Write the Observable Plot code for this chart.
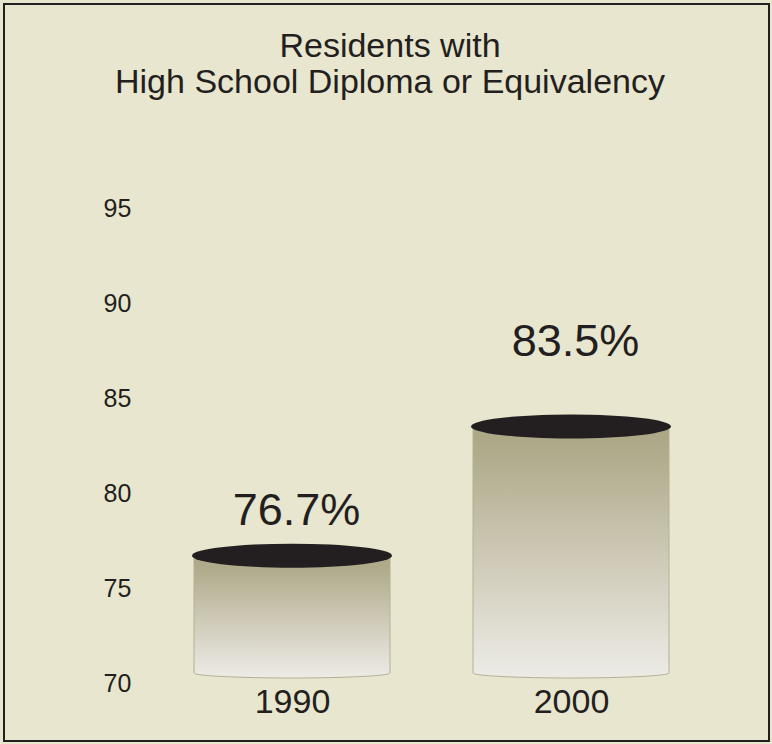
<!DOCTYPE html>
<html>
<head>
<meta charset="utf-8">
<script src="https://cdn.jsdelivr.net/npm/d3@7"></script>
<script src="https://cdn.jsdelivr.net/npm/@observablehq/plot@0.6"></script>
<style>
  body { margin: 0; background: #e8e6ce; }
  #wrap { position: relative; width: 772px; height: 744px; background: #e8e6ce; overflow: hidden;
          font-family: "Liberation Sans", Arial, sans-serif; color: #231f20; }
  #title { position: absolute; left: 0; top: 0; width: 772px; height: 120px; box-sizing: border-box;
           padding-top: 27px; padding-left: 8px; text-align: center; font-size: 34px; line-height: 36px; }
  #chart { position: absolute; left: 0; top: 120px; }
  #frame { position: absolute; left: 3px; top: 3px; width: 767px; height: 739px; box-sizing: border-box;
           border: 2px solid #231f20; pointer-events: none; }
</style>
</head>
<body>
<div id="wrap">
  <div id="title">Residents with<br>High School Diploma or Equivalency</div>
  <div id="chart"></div>
  <div id="frame"></div>
</div>
<script>
const years = ["1990", "2000"];
const values = [76.7, 83.5];
const yTicks = [70, 75, 80, 85, 90, 95];
const baseline = 70;

const data = years.map((year, i) => ({year, value: values[i]}));

const cylinders = (index, scales) => {
  const {x, y} = scales;
  const bw = x.bandwidth();
  const g = d3.create("svg:g");
  const grad = g.append("defs").append("linearGradient")
    .attr("id", "cylGrad").attr("x1", 0).attr("y1", 0).attr("x2", 0).attr("y2", 1);
  [[0, "#aba784"], [0.12, "#b0ac8d"], [0.5, "#cdc8b4"], [0.85, "#e3e1d8"], [1, "#ecebe5"]]
    .forEach(([o, c]) => grad.append("stop").attr("offset", o).attr("stop-color", c));
  data.forEach(d => {
    const x0 = x(d.year), x1 = x0 + bw, cx = x0 + bw / 2;
    const yt = y(d.value), yb = y(baseline) - 10;
    g.append("path")
      .attr("d", `M${x0 + 2},${yt}L${x0 + 2},${yb}A${bw / 2 - 2},5 0 0 0 ${x1 - 2},${yb}L${x1 - 2},${yt}Z`)
      .attr("fill", "url(#cylGrad)")
      .attr("stroke", "#b4b094")
      .attr("stroke-width", 1);
    g.append("ellipse")
      .attr("cx", cx).attr("cy", yt)
      .attr("rx", bw / 2).attr("ry", 12)
      .attr("fill", "#231f20");
  });
  return g.node();
};

const plot = Plot.plot({
  width: 772,
  height: 624,
  marginTop: 88,
  marginBottom: 61,
  marginLeft: 112,
  marginRight: 21,
  style: {background: "transparent", color: "#231f20", fontFamily: "'Liberation Sans', Arial, sans-serif", overflow: "visible"},
  x: {type: "band", domain: years, padding: 0.2845, axis: null},
  y: {domain: [70, 95], axis: null},
  marks: [
    Plot.axisY(yTicks, {anchor: "left", label: null, tickSize: 0, tickPadding: 9, textAnchor: "start", fontSize: 25}),
    cylinders,
    Plot.text(data, {filter: d => d.year === "1990", x: "year", y: "value", text: d => `${d.value}%`, dy: -46, dx: 4, fontSize: 45}),
    Plot.text(data, {filter: d => d.year === "2000", x: "year", y: "value", text: d => `${d.value}%`, dy: -85, dx: 4, fontSize: 45}),
    Plot.text(years, {x: d => d, frameAnchor: "bottom", dy: 29, fontSize: 34})
  ]
});
document.getElementById("chart").append(plot);
</script>
</body>
</html>
